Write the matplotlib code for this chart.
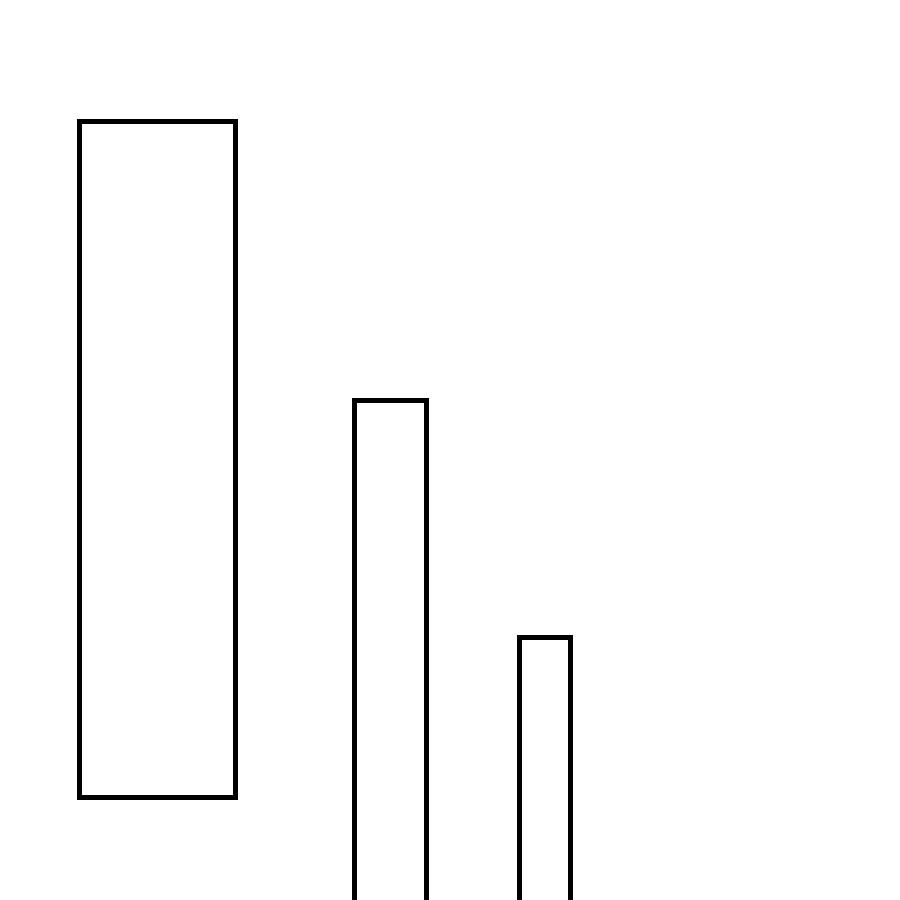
import matplotlib
matplotlib.use("Agg")
import matplotlib.pyplot as plt

# bar geometry in a 0..900 canvas (y up)
bar_centers = [157, 390, 544]
bar_widths = [156, 72, 51]
bar_bottoms = [103, -30, -30]
bar_tops = [779, 500, 263]

heights = [t - b for t, b in zip(bar_tops, bar_bottoms)]

fig = plt.figure(figsize=(9, 9), dpi=100)
ax = fig.add_axes([0, 0, 1, 1])
ax.bar(bar_centers, heights, width=bar_widths, bottom=bar_bottoms,
       facecolor="white", edgecolor="black", linewidth=3.6)
ax.set_xlim(0, 900)
ax.set_ylim(0, 900)
ax.axis("off")

fig.savefig("out.png", dpi=100, facecolor="white")
plt.close(fig)
